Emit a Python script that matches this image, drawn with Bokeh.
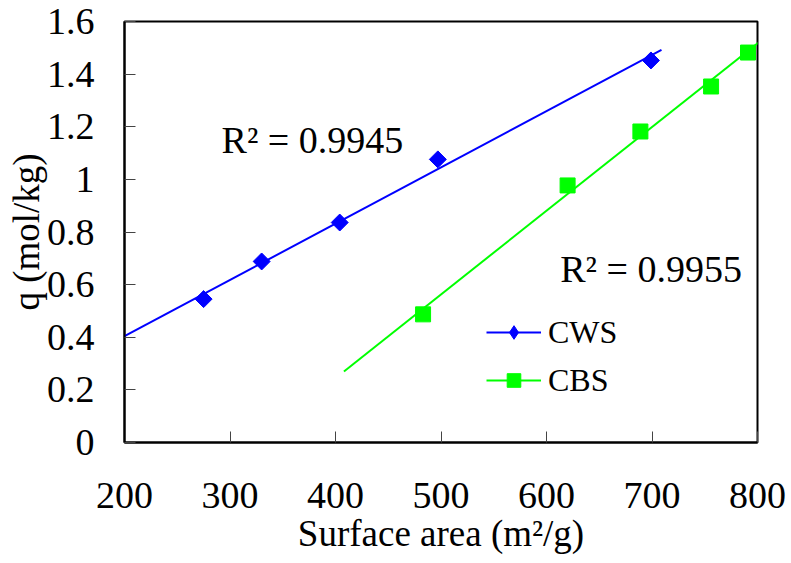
import numpy as np
from bokeh.plotting import figure
from bokeh.models import Legend, LegendItem, Label, Range1d, FixedTicker
from bokeh.embed import file_html
from bokeh.resources import INLINE

# ---- data ----
cws_area = [275, 330, 404, 497, 699]
cws_q = [0.545, 0.688, 0.836, 1.076, 1.452]
cbs_area = [483, 620, 689, 756, 791]
cbs_q = [0.487, 0.977, 1.182, 1.353, 1.482]

cws_r2 = "R² = 0.9945"
cbs_r2 = "R² = 0.9955"

x_ticks = [200, 300, 400, 500, 600, 700, 800]
y_ticks = [0, 0.2, 0.4, 0.6, 0.8, 1.0, 1.2, 1.4, 1.6]
y_tick_labels = ["0", "0.2", "0.4", "0.6", "0.8", "1", "1.2", "1.4", "1.6"]

# trendline forecast (Excel-style: backward / forward extents)
trend_backward = 75
trend_forward = 10

FONT = "Liberation Serif"
BLUE = "#0000FF"
GREEN = "#00FF00"

p = figure(width=791, height=563, output_backend="svg", toolbar_location=None,
           x_range=Range1d(200, 800), y_range=Range1d(0, 1.6),
           min_border_left=124, min_border_right=34, min_border_top=21, min_border_bottom=121)

p.xgrid.visible = False
p.ygrid.visible = False
p.outline_line_color = "black"
p.outline_line_width = 2
p.background_fill_color = "white"
p.border_fill_color = "white"

# axes
p.xaxis.ticker = FixedTicker(ticks=x_ticks)
p.yaxis.ticker = FixedTicker(ticks=y_ticks)
p.yaxis.major_label_overrides = {t: l for t, l in zip(y_ticks, y_tick_labels)}
p.xaxis.major_label_overrides = {t: str(t) for t in x_ticks}
for ax in (p.xaxis, p.yaxis):
    ax.axis_line_width = 2
    ax.axis_line_color = "black"
    ax.major_tick_in = 11
    ax.major_tick_out = 0
    ax.major_tick_line_width = 1
    ax.major_tick_line_color = "#444444"
    ax.minor_tick_line_color = None
    ax.major_label_text_font = FONT
    ax.major_label_text_font_size = "38px"
    ax.major_label_text_color = "black"
    ax.axis_label_text_font = FONT
    ax.axis_label_text_font_size = "37px"
    ax.axis_label_text_font_style = "normal"
    ax.axis_label_text_color = "black"

p.xaxis.major_label_standoff = 40
p.xaxis.axis_label = "Surface area (m²/g)"
p.xaxis.axis_label_standoff = 2
p.yaxis.major_label_standoff = 30
p.yaxis.axis_label = "q (mol/kg)"
p.yaxis.axis_label_standoff = -3

# trendlines (least-squares fit of each series)
def trend(xs, ys):
    k, b = np.polyfit(xs, ys, 1)
    x0 = min(xs) - trend_backward
    x1 = max(xs) + trend_forward
    return [x0, x1], [k * x0 + b, k * x1 + b]

tx, ty = trend(cws_area, cws_q)
l1 = p.line(tx, ty, line_color=BLUE, line_width=2)
tx2, ty2 = trend(cbs_area, cbs_q)
l2 = p.line(tx2, ty2, line_color=GREEN, line_width=2)

s1 = p.scatter(cws_area, cws_q, marker="square", angle=np.pi / 4, size=12,
               fill_color=BLUE, line_color=BLUE)
s2 = p.scatter(cbs_area, cbs_q, marker="square", size=15,
               fill_color=GREEN, line_color=GREEN)

# legend-only marker glyphs (a single non-plotted NaN point), so the legend
# shows a diamond for CWS and a square for CBS
k1 = p.scatter([np.nan], [np.nan], marker="diamond", fill_color=BLUE, line_color=BLUE)
k2 = p.scatter([np.nan], [np.nan], marker="square", fill_color=GREEN, line_color=GREEN)

legend = Legend(items=[LegendItem(label="CWS", renderers=[l1, k1]),
                       LegendItem(label="CBS", renderers=[l2, k2])],
                location=(362, 42), orientation="vertical",
                border_line_color=None, background_fill_alpha=0,
                padding=0, margin=0, spacing=8,
                glyph_width=55, glyph_height=34, label_height=40,
                label_standoff=7,
                label_text_font=FONT, label_text_font_size="32px",
                label_text_color="black")
p.add_layout(legend, "center")

p.add_layout(Label(x=292, y=1.148, text=cws_r2, text_font=FONT,
                   text_font_size="38px", text_color="black",
                   text_baseline="alphabetic"))
p.add_layout(Label(x=613, y=0.661, text=cbs_r2, text_font=FONT,
                   text_font_size="38px", text_color="black",
                   text_baseline="alphabetic"))

open("out.html", "w").write(file_html(p, INLINE))
